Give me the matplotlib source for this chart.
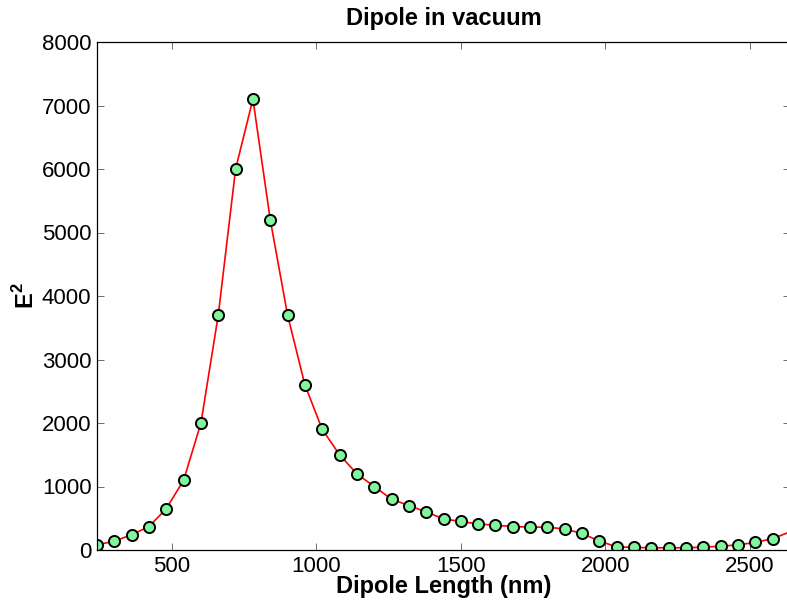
import numpy as np
import matplotlib
matplotlib.use('Agg')
import matplotlib.pyplot as plt

plt.rcParams['font.family'] = ['Liberation Sans', 'DejaVu Sans']
plt.rcParams['mathtext.fontset'] = 'custom'
plt.rcParams['mathtext.rm'] = 'Liberation Sans'
plt.rcParams['mathtext.bf'] = 'Liberation Sans:bold'

# dipole length (nm) and field intensity E^2
length_nm = [240, 300, 360, 420, 480, 540, 600, 660, 720, 780, 840, 900, 960,
             1020, 1080, 1140, 1200, 1260, 1320, 1380, 1440, 1500, 1560, 1620,
             1680, 1740, 1800, 1860, 1920, 1980, 2040, 2100, 2160, 2220, 2280,
             2340, 2400, 2460, 2520, 2580, 2700]
e2 = [80, 140, 240, 370, 650, 1100, 2000, 3700, 6000, 7100, 5200, 3700, 2600,
      1900, 1500, 1200, 1000, 800, 700, 600, 490, 450, 410, 390,
      370, 360, 360, 330, 260, 140, 50, 40, 35, 35, 35,
      45, 60, 80, 120, 180, 390]

x_ticks = [500, 1000, 1500, 2000, 2500]
y_ticks = [0, 1000, 2000, 3000, 4000, 5000, 6000, 7000, 8000]

fig = plt.figure(figsize=(7.87, 6.08), dpi=100)
ax = fig.add_axes([97 / 787, 58 / 608, 693 / 787, 508 / 608])

ax.plot(length_nm, e2, color='red', lw=1.2, marker='o', ms=8,
        mfc='#80f59a', mec='black', mew=1.4)

ax.set_xlim(240, 2640)
ax.set_ylim(0, 8000)
ax.set_xticks(x_ticks)
ax.set_yticks(y_ticks)
ax.tick_params(direction='in', length=5, width=0.6, color='#555555',
               labelsize=16, pad=4, top=True, right=True)
for s in ax.spines.values():
    s.set_linewidth(0.9)

ax.set_title('Dipole in vacuum', fontsize=17, fontweight='bold', pad=12)
ax.set_xlabel('Dipole Length (nm)', fontsize=17, fontweight='bold', labelpad=-1)
ax.set_ylabel(r'$\mathbf{E}^\mathbf{2}$', fontsize=17, labelpad=2)

fig.savefig('out.png', dpi=100)
